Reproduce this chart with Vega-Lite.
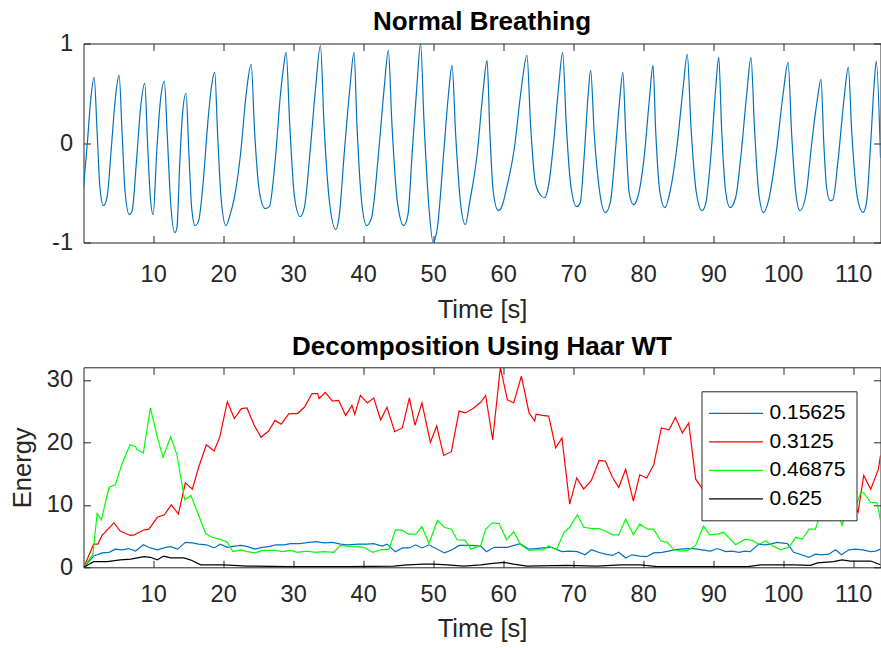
{
  "$schema": "https://vega.github.io/schema/vega-lite/v6.json",
  "padding": {"left": 9.5, "top": 7.5, "right": 0, "bottom": 0},
  "background": "white",
  "spacing": 8.8,
  "resolve": {"scale": {"color": "independent"}, "legend": {"color": "independent"}},
  "config": {
    "font": "Liberation Sans",
    "view": {"stroke": "#262626", "strokeWidth": 1},
    "axis": {"grid": false, "domain": false, "labelOverlap": false, "labelFlush": false, "labelBound": false, "tickColor": "#262626", "tickWidth": 1, "minExtent": 0}
  },
  "datasets": {
    "breath": [
      {"t":0.05,"v":-0.45},{"t":0.6,"v":0.0},{"t":1.1,"v":0.45},{"t":1.57,"v":0.66},{"t":2.0,"v":0.1},{"t":2.4,"v":-0.45},{"t":2.9,"v":-0.63},{"t":3.4,"v":-0.55},
      {"t":4.1,"v":0.02},{"t":4.6,"v":0.45},{"t":5.14,"v":0.68},{"t":5.55,"v":0.12},{"t":6.0,"v":-0.5},{"t":6.6,"v":-0.72},{"t":7.0,"v":-0.68},
      {"t":7.6,"v":-0.2},{"t":8.2,"v":0.35},{"t":8.8,"v":0.6},{"t":9.2,"v":0.0},{"t":9.6,"v":-0.55},{"t":10.0,"v":-0.72},
      {"t":10.5,"v":-0.1},{"t":11.0,"v":0.4},{"t":11.6,"v":0.62},{"t":12.0,"v":0.1},{"t":12.5,"v":-0.6},{"t":13.1,"v":-0.9},{"t":13.4,"v":-0.85},
      {"t":13.8,"v":-0.2},{"t":14.2,"v":0.3},{"t":14.7,"v":0.5},{"t":15.1,"v":-0.1},{"t":15.5,"v":-0.65},{"t":16.0,"v":-0.83},{"t":16.5,"v":-0.78},
      {"t":17.2,"v":-0.35},{"t":17.8,"v":0.2},{"t":18.3,"v":0.55},{"t":18.8,"v":0.71},{"t":19.2,"v":0.1},{"t":19.7,"v":-0.55},{"t":20.4,"v":-0.83},{"t":21.0,"v":-0.72},{"t":21.6,"v":-0.55},
      {"t":22.5,"v":-0.1},{"t":23.3,"v":0.5},{"t":24.0,"v":0.79},{"t":24.5,"v":0.1},{"t":25.2,"v":-0.5},{"t":26.0,"v":-0.66},{"t":26.6,"v":-0.64},
      {"t":27.4,"v":-0.2},{"t":28.2,"v":0.5},{"t":28.6,"v":0.75},{"t":29.0,"v":0.91},{"t":29.5,"v":0.2},{"t":30.2,"v":-0.55},{"t":31.0,"v":-0.74},{"t":31.6,"v":-0.65},
      {"t":32.4,"v":-0.1},{"t":33.2,"v":0.55},{"t":33.9,"v":0.98},{"t":34.4,"v":0.2},{"t":35.2,"v":-0.6},{"t":36.1,"v":-0.87},{"t":36.6,"v":-0.72},
      {"t":37.3,"v":-0.1},{"t":38.1,"v":0.55},{"t":38.7,"v":0.91},{"t":39.1,"v":0.2},{"t":39.8,"v":-0.6},{"t":40.5,"v":-0.83},{"t":41.2,"v":-0.75},
      {"t":42.2,"v":-0.1},{"t":43.0,"v":0.55},{"t":43.6,"v":0.93},{"t":44.1,"v":0.2},{"t":44.9,"v":-0.6},{"t":45.8,"v":-0.83},{"t":46.4,"v":-0.72},
      {"t":47.0,"v":-0.1},{"t":47.7,"v":0.6},{"t":48.2,"v":1.0},{"t":48.7,"v":0.2},{"t":49.4,"v":-0.65},{"t":50.0,"v":-1.0},{"t":50.6,"v":-0.85},
      {"t":51.5,"v":-0.1},{"t":52.2,"v":0.5},{"t":52.7,"v":0.78},{"t":53.2,"v":0.1},{"t":53.9,"v":-0.6},{"t":54.6,"v":-0.82},{"t":55.2,"v":-0.6},
      {"t":56.3,"v":-0.1},{"t":57.1,"v":0.5},{"t":57.7,"v":0.83},{"t":58.1,"v":0.1},{"t":58.6,"v":-0.5},{"t":59.3,"v":-0.68},{"t":59.8,"v":-0.64},{"t":60.5,"v":-0.45},
      {"t":61.6,"v":-0.05},{"t":62.6,"v":0.55},{"t":63.4,"v":0.88},{"t":63.9,"v":0.2},{"t":64.6,"v":-0.4},{"t":65.3,"v":-0.52},{"t":65.9,"v":-0.55},{"t":66.5,"v":-0.42},
      {"t":67.2,"v":0.0},{"t":67.9,"v":0.55},{"t":68.5,"v":0.91},{"t":69.0,"v":0.2},{"t":69.7,"v":-0.45},{"t":70.5,"v":-0.64},{"t":71.0,"v":-0.6},
      {"t":71.6,"v":-0.1},{"t":72.1,"v":0.45},{"t":72.5,"v":0.73},{"t":73.0,"v":0.1},{"t":73.8,"v":-0.5},{"t":74.6,"v":-0.7},{"t":75.3,"v":-0.6},
      {"t":76.0,"v":-0.1},{"t":76.6,"v":0.4},{"t":77.1,"v":0.71},{"t":77.5,"v":0.1},{"t":78.0,"v":-0.5},{"t":78.6,"v":-0.62},{"t":79.2,"v":-0.55},
      {"t":80.2,"v":-0.1},{"t":80.9,"v":0.45},{"t":81.4,"v":0.78},{"t":81.8,"v":0.1},{"t":82.4,"v":-0.5},{"t":83.1,"v":-0.65},{"t":83.8,"v":-0.5},
      {"t":84.8,"v":-0.05},{"t":85.7,"v":0.55},{"t":86.3,"v":0.89},{"t":86.8,"v":0.2},{"t":87.6,"v":-0.5},{"t":88.4,"v":-0.68},{"t":88.9,"v":-0.62},
      {"t":89.7,"v":-0.1},{"t":90.3,"v":0.5},{"t":90.8,"v":0.86},{"t":91.2,"v":0.15},{"t":91.8,"v":-0.5},{"t":92.4,"v":-0.65},{"t":93.2,"v":-0.55},
      {"t":94.0,"v":-0.1},{"t":94.8,"v":0.5},{"t":95.4,"v":0.86},{"t":95.9,"v":0.15},{"t":96.5,"v":-0.5},{"t":97.2,"v":-0.7},{"t":97.9,"v":-0.58},
      {"t":99.0,"v":-0.1},{"t":100.0,"v":0.5},{"t":100.7,"v":0.81},{"t":101.2,"v":0.1},{"t":101.8,"v":-0.5},{"t":102.4,"v":-0.68},{"t":103.3,"v":-0.5},
      {"t":104.0,"v":-0.05},{"t":104.6,"v":0.3},{"t":104.9,"v":0.45},{"t":105.4,"v":0.64},{"t":105.8,"v":0.0},{"t":106.2,"v":-0.45},{"t":106.7,"v":-0.58},{"t":107.1,"v":-0.57},
      {"t":107.8,"v":-0.2},{"t":108.7,"v":0.45},{"t":109.3,"v":0.76},{"t":109.8,"v":0.1},{"t":110.6,"v":-0.55},{"t":111.4,"v":-0.7},{"t":111.9,"v":-0.6},
      {"t":112.5,"v":0.0},{"t":113.0,"v":0.6},{"t":113.3,"v":0.82},{"t":113.9,"v":-0.15}
    ],
    "blue": [
      {"t":0.1,"e":0},{"t":1.5,"e":1.8},{"t":2.0,"e":2.0},{"t":2.7,"e":2.3},{"t":3.7,"e":2.4},{"t":4.6,"e":2.9},{"t":5.6,"e":2.8},{"t":6.5,"e":3.0},{"t":7.5,"e":2.6},{"t":8.6,"e":3.6},{"t":9.6,"e":3.1},{"t":10.6,"e":2.8},{"t":11.8,"e":3.2},{"t":12.5,"e":3.3},{"t":13.5,"e":2.9},{"t":14.6,"e":4.0},{"t":15.6,"e":3.9},{"t":16.5,"e":3.7},{"t":17.6,"e":3.6},{"t":18.7,"e":3.1},{"t":19.6,"e":3.7},{"t":20.6,"e":3.2},{"t":21.6,"e":3.4},{"t":22.6,"e":3.5},{"t":23.5,"e":3.3},{"t":24.5,"e":2.9},{"t":25.6,"e":3.2},{"t":26.5,"e":3.3},{"t":27.5,"e":3.6},{"t":28.7,"e":3.6},{"t":29.6,"e":3.8},{"t":31.0,"e":3.8},{"t":32.2,"e":4.0},{"t":33.3,"e":4.1},{"t":34.4,"e":3.9},{"t":35.6,"e":4.0},{"t":36.8,"e":3.7},{"t":37.7,"e":3.6},{"t":39.4,"e":3.7},{"t":40.6,"e":3.7},{"t":41.5,"e":3.8},{"t":42.7,"e":3.4},{"t":43.4,"e":3.7},{"t":44.6,"e":2.5},{"t":45.6,"e":3.1},{"t":46.6,"e":3.1},{"t":47.5,"e":3.6},{"t":48.4,"e":3.1},{"t":49.4,"e":3.6},{"t":50.6,"e":2.9},{"t":51.6,"e":2.3},{"t":52.7,"e":2.8},{"t":53.7,"e":3.5},{"t":55.3,"e":3.5},{"t":56.8,"e":3.4},{"t":57.6,"e":2.5},{"t":58.7,"e":3.2},{"t":60.6,"e":3.2},{"t":62.4,"e":3.8},{"t":63.7,"e":2.9},{"t":64.7,"e":3.0},{"t":65.7,"e":3.1},{"t":66.8,"e":3.2},{"t":67.5,"e":2.9},{"t":68.4,"e":2.5},{"t":69.5,"e":2.6},{"t":70.6,"e":2.5},{"t":71.7,"e":2.0},{"t":72.6,"e":2.8},{"t":73.6,"e":2.4},{"t":74.6,"e":2.1},{"t":75.6,"e":1.9},{"t":76.5,"e":2.4},{"t":77.5,"e":1.5},{"t":78.4,"e":2.0},{"t":79.5,"e":1.8},{"t":80.5,"e":1.7},{"t":81.5,"e":2.3},{"t":82.7,"e":2.4},{"t":83.6,"e":2.6},{"t":84.4,"e":2.8},{"t":85.3,"e":2.9},{"t":86.3,"e":3.0},{"t":87.2,"e":3.0},{"t":88.4,"e":2.8},{"t":89.6,"e":2.6},{"t":90.6,"e":3.0},{"t":91.8,"e":2.5},{"t":92.7,"e":2.6},{"t":93.7,"e":2.4},{"t":94.5,"e":2.6},{"t":95.3,"e":2.5},{"t":96.5,"e":3.7},{"t":97.4,"e":3.6},{"t":98.2,"e":3.7},{"t":99.1,"e":4.0},{"t":100.6,"e":3.8},{"t":101.5,"e":2.4},{"t":102.6,"e":2.0},{"t":103.7,"e":1.6},{"t":104.6,"e":2.1},{"t":105.5,"e":2.0},{"t":106.5,"e":2.1},{"t":107.5,"e":2.8},{"t":108.3,"e":2.0},{"t":109.4,"e":2.8},{"t":110.3,"e":2.9},{"t":111.3,"e":2.8},{"t":112.5,"e":2.5},{"t":113.2,"e":2.6},{"t":113.9,"e":2.9}
    ],
    "red": [
      {"t":0.1,"e":0},{"t":1.5,"e":3.7},{"t":2.1,"e":3.7},{"t":2.7,"e":5.1},{"t":4.4,"e":7.1},{"t":5.3,"e":5.8},{"t":6.7,"e":5.1},{"t":7.3,"e":5.2},{"t":8.7,"e":6.0},{"t":9.4,"e":6.1},{"t":10.6,"e":8.0},{"t":11.6,"e":8.4},{"t":12.6,"e":10.0},{"t":13.6,"e":8.5},{"t":14.6,"e":13.5},{"t":15.6,"e":12.5},{"t":16.5,"e":16.0},{"t":17.6,"e":19.6},{"t":18.7,"e":18.6},{"t":19.5,"e":20.8},{"t":20.6,"e":26.5},{"t":21.6,"e":23.8},{"t":22.6,"e":25.4},{"t":23.4,"e":25.5},{"t":24.4,"e":22.8},{"t":25.4,"e":20.8},{"t":26.5,"e":21.8},{"t":27.4,"e":23.5},{"t":28.3,"e":22.9},{"t":29.4,"e":24.6},{"t":30.6,"e":24.6},{"t":31.6,"e":25.6},{"t":32.7,"e":27.8},{"t":33.5,"e":27.8},{"t":33.7,"e":27.0},{"t":34.6,"e":28.0},{"t":35.6,"e":26.6},{"t":36.5,"e":26.7},{"t":37.5,"e":24.3},{"t":38.4,"e":25.9},{"t":38.8,"e":24.5},{"t":39.6,"e":27.5},{"t":40.6,"e":26.3},{"t":41.5,"e":27.1},{"t":42.5,"e":23.6},{"t":43.4,"e":25.6},{"t":44.5,"e":21.7},{"t":45.6,"e":22.3},{"t":46.6,"e":27.1},{"t":47.4,"e":22.7},{"t":48.4,"e":26.3},{"t":49.6,"e":20.0},{"t":50.5,"e":22.6},{"t":51.5,"e":17.9},{"t":52.6,"e":18.5},{"t":53.7,"e":25.0},{"t":54.6,"e":24.7},{"t":55.7,"e":25.4},{"t":56.8,"e":26.4},{"t":57.5,"e":27.5},{"t":58.5,"e":20.4},{"t":59.6,"e":32.0},{"t":60.6,"e":26.8},{"t":61.5,"e":26.3},{"t":62.6,"e":30.6},{"t":63.7,"e":24.7},{"t":64.5,"e":23.4},{"t":64.7,"e":24.5},{"t":65.6,"e":24.3},{"t":66.5,"e":24.2},{"t":67.5,"e":19.1},{"t":68.4,"e":20.7},{"t":69.5,"e":10.1},{"t":70.5,"e":14.3},{"t":71.5,"e":12.5},{"t":72.6,"e":13.9},{"t":73.7,"e":17.1},{"t":74.6,"e":17.0},{"t":75.6,"e":14.4},{"t":76.5,"e":12.8},{"t":77.5,"e":15.7},{"t":78.6,"e":10.6},{"t":79.5,"e":14.8},{"t":80.5,"e":14.3},{"t":81.5,"e":16.4},{"t":82.6,"e":22.3},{"t":83.7,"e":22.0},{"t":84.6,"e":24.0},{"t":85.6,"e":21.5},{"t":86.5,"e":23.1},{"t":87.5,"e":14.1},{"t":88.5,"e":12.5},{"t":89.5,"e":16.0},{"t":90.5,"e":14.5},{"t":91.5,"e":19.0},{"t":92.5,"e":17.0},{"t":93.5,"e":21.0},{"t":94.5,"e":18.0},{"t":95.5,"e":22.0},{"t":96.5,"e":20.0},{"t":97.5,"e":17.0},{"t":98.5,"e":19.0},{"t":99.5,"e":15.0},{"t":100.5,"e":18.0},{"t":101.5,"e":16.0},{"t":102.5,"e":20.0},{"t":103.5,"e":17.0},{"t":104.5,"e":21.0},{"t":105.5,"e":18.0},{"t":106.5,"e":15.0},{"t":107.5,"e":19.0},{"t":108.5,"e":14.0},{"t":109.6,"e":11.0},{"t":110.7,"e":8.8},{"t":111.5,"e":14.7},{"t":112.5,"e":12.5},{"t":113.6,"e":15.7},{"t":113.9,"e":17.9}
    ],
    "green": [
      {"t":0.1,"e":0},{"t":1.4,"e":2.1},{"t":2.0,"e":8.6},{"t":2.6,"e":7.6},{"t":3.7,"e":12.8},{"t":4.6,"e":13.2},{"t":5.6,"e":16.7},{"t":6.7,"e":19.6},{"t":7.5,"e":19.3},{"t":7.7,"e":18.8},{"t":8.6,"e":18.3},{"t":9.6,"e":25.5},{"t":10.6,"e":20.8},{"t":11.4,"e":17.6},{"t":12.5,"e":20.9},{"t":13.4,"e":18.0},{"t":14.5,"e":10.8},{"t":15.4,"e":11.5},{"t":16.5,"e":8.3},{"t":17.5,"e":5.4},{"t":18.4,"e":4.8},{"t":19.5,"e":4.5},{"t":20.6,"e":4.0},{"t":21.4,"e":2.5},{"t":22.5,"e":2.8},{"t":23.4,"e":2.5},{"t":24.6,"e":2.3},{"t":25.6,"e":2.7},{"t":27.5,"e":2.7},{"t":28.4,"e":2.5},{"t":29.6,"e":2.7},{"t":30.6,"e":2.4},{"t":32.0,"e":2.6},{"t":33.2,"e":2.4},{"t":34.4,"e":2.5},{"t":35.8,"e":2.4},{"t":36.7,"e":3.5},{"t":37.7,"e":3.4},{"t":40.1,"e":3.2},{"t":41.4,"e":2.4},{"t":42.5,"e":2.8},{"t":43.7,"e":2.9},{"t":44.6,"e":6.0},{"t":45.6,"e":5.9},{"t":46.5,"e":5.3},{"t":47.5,"e":5.3},{"t":48.4,"e":6.5},{"t":49.4,"e":3.8},{"t":50.6,"e":7.5},{"t":51.6,"e":6.4},{"t":52.6,"e":6.1},{"t":53.4,"e":4.4},{"t":54.6,"e":4.3},{"t":55.4,"e":2.9},{"t":56.8,"e":3.5},{"t":57.5,"e":6.1},{"t":58.5,"e":7.1},{"t":59.4,"e":7.0},{"t":60.5,"e":4.4},{"t":61.5,"e":5.7},{"t":62.5,"e":3.6},{"t":63.7,"e":2.7},{"t":64.6,"e":2.8},{"t":65.7,"e":2.8},{"t":66.5,"e":3.4},{"t":67.6,"e":2.8},{"t":68.7,"e":5.6},{"t":69.5,"e":6.4},{"t":70.6,"e":8.4},{"t":71.5,"e":6.4},{"t":72.7,"e":6.2},{"t":73.7,"e":6.2},{"t":74.6,"e":5.8},{"t":75.6,"e":5.2},{"t":76.5,"e":5.2},{"t":77.5,"e":7.7},{"t":78.6,"e":5.2},{"t":79.5,"e":6.9},{"t":80.6,"e":6.1},{"t":81.5,"e":6.1},{"t":82.5,"e":4.2},{"t":83.4,"e":4.0},{"t":84.4,"e":2.8},{"t":85.3,"e":2.6},{"t":86.4,"e":2.7},{"t":87.5,"e":3.5},{"t":88.6,"e":6.6},{"t":89.5,"e":5.2},{"t":90.6,"e":5.3},{"t":91.5,"e":5.6},{"t":93.2,"e":3.6},{"t":94.6,"e":4.5},{"t":95.6,"e":4.3},{"t":96.5,"e":3.7},{"t":97.5,"e":4.2},{"t":98.4,"e":3.5},{"t":99.6,"e":2.8},{"t":100.8,"e":3.2},{"t":101.8,"e":4.8},{"t":102.7,"e":4.5},{"t":103.7,"e":6.1},{"t":104.6,"e":6.1},{"t":105.3,"e":8.6},{"t":106.5,"e":7.5},{"t":107.4,"e":10.5},{"t":108.4,"e":6.7},{"t":109.5,"e":11.0},{"t":110.3,"e":9.5},{"t":111.1,"e":12.0},{"t":111.5,"e":11.9},{"t":112.5,"e":10.4},{"t":113.4,"e":10.3},{"t":113.9,"e":7.5}
    ],
    "black": [
      {"t":0.1,"e":0},{"t":1.5,"e":0.9},{"t":3.4,"e":0.9},{"t":5.3,"e":1.2},{"t":6.8,"e":1.3},{"t":8.7,"e":1.7},{"t":9.6,"e":1.6},{"t":10.6,"e":1.2},{"t":11.5,"e":1.8},{"t":12.5,"e":1.5},{"t":14.4,"e":1.5},{"t":15.3,"e":1.2},{"t":16.8,"e":0.4},{"t":18.2,"e":0.4},{"t":20.1,"e":0.4},{"t":23.4,"e":0.2},{"t":29.1,"e":0.1},{"t":37.7,"e":0.1},{"t":44.4,"e":0.2},{"t":46.3,"e":0.4},{"t":48.7,"e":0.5},{"t":50.1,"e":0.5},{"t":52.0,"e":0.4},{"t":54.4,"e":0.2},{"t":56.8,"e":0.4},{"t":58.2,"e":0.6},{"t":60.1,"e":0.8},{"t":61.5,"e":0.5},{"t":63.4,"e":0.2},{"t":69.1,"e":0.3},{"t":73.4,"e":0.2},{"t":76.8,"e":0.4},{"t":79.6,"e":0.4},{"t":82.0,"e":0.1},{"t":89.1,"e":0.1},{"t":94.9,"e":0.1},{"t":96.8,"e":0.4},{"t":101.5,"e":0.4},{"t":103.9,"e":0.3},{"t":104.9,"e":0.7},{"t":107.2,"e":0.9},{"t":108.4,"e":1.2},{"t":109.6,"e":1.0},{"t":112.5,"e":1.0},{"t":113.9,"e":0.4}
    ]
  },
  "vconcat": [
    {
      "width": 797,
      "height": 199,
      "title": {"text": "Normal Breathing", "fontSize": 26, "fontWeight": "bold", "font": "Liberation Sans", "color": "black", "baseline": "alphabetic", "offset": -24, "anchor": "middle", "frame": "group"},
      "data": {"name": "breath"},
      "layer": [
        {
          "mark": {"type": "line", "color": "#0072BD", "strokeWidth": 1.2, "interpolate": "monotone", "clip": true},
          "encoding": {
            "x": {"field": "t", "type": "quantitative", "scale": {"domain": [0.05, 113.9], "nice": false, "zero": false},
              "axis": {"orient": "bottom", "values": [10,20,30,40,50,60,70,80,90,100,110], "tickSize": -7, "labelFontSize": 23.5, "labelColor": "#262626", "labelBaseline": "alphabetic", "labelPadding": 46, "title": "Time [s]", "titleFontSize": 25.5, "titleFontWeight": "normal", "titleColor": "#262626", "titleBaseline": "alphabetic", "titleY": 75.3}},
            "y": {"field": "v", "type": "quantitative", "scale": {"domain": [-1, 1], "nice": false, "zero": false},
              "axis": {"orient": "left", "values": [-1, 0, 1], "labelExpr": "'' + datum.value", "tickSize": -7, "labelFontSize": 23.5, "labelColor": "#262626", "labelPadding": 18, "labelAlign": "right", "labelBaseline": "middle", "title": null}}
          }
        },
        {
          "mark": {"type": "line", "strokeOpacity": 0},
          "encoding": {
            "x": {"field": "t", "type": "quantitative", "axis": {"orient": "top", "values": [10,20,30,40,50,60,70,80,90,100,110], "tickSize": -7, "labels": false, "title": null, "minExtent": 0, "maxExtent": 0}},
            "y": {"field": "v", "type": "quantitative", "axis": {"orient": "right", "values": [-1, 0, 1], "tickSize": -7, "labels": false, "title": null, "minExtent": 0, "maxExtent": 0}}
          }
        }
      ],
      "resolve": {"axis": {"x": "independent", "y": "independent"}}
    },
    {
      "width": 797,
      "height": 200,
      "title": {"text": "Decomposition Using Haar WT", "fontSize": 26, "fontWeight": "bold", "font": "Liberation Sans", "color": "black", "baseline": "alphabetic", "offset": -14.5, "anchor": "middle", "frame": "group"},
      "layer": [
        {
          "data": {"name": "blue"},
          "mark": {"type": "line", "strokeWidth": 1.2, "clip": true},
          "encoding": {
            "x": {"field": "t", "type": "quantitative", "scale": {"domain": [0.05, 113.9], "nice": false, "zero": false},
              "axis": {"orient": "bottom", "values": [10,20,30,40,50,60,70,80,90,100,110], "tickSize": -7, "labelFontSize": 23.5, "labelColor": "#262626", "labelBaseline": "alphabetic", "labelPadding": 41.5, "title": "Time [s]", "titleFontSize": 25.5, "titleFontWeight": "normal", "titleColor": "#262626", "titleBaseline": "alphabetic", "titleY": 69}},
            "y": {"field": "e", "type": "quantitative", "scale": {"domain": [0, 32], "nice": false, "zero": false},
              "axis": {"orient": "left", "values": [0, 10, 20, 30], "tickSize": -7, "labelFontSize": 23.5, "labelColor": "#262626", "labelPadding": 18, "labelAlign": "right", "labelBaseline": "middle", "title": "Energy", "titleFontSize": 25.5, "titleFontWeight": "normal", "titleColor": "#262626", "titleBaseline": "alphabetic", "titleAngle": -90, "titleAlign": "center", "titleX": -53.5, "titleY": 100}},
            "color": {"datum": "0.15625", "type": "nominal",
              "scale": {"domain": ["0.15625", "0.3125", "0.46875", "0.625"], "range": ["#0072BD", "#FF0000", "#00FF00", "#000000"]},
              "legend": {"orient": "none", "legendX": 618, "legendY": 24, "title": null, "symbolType": "M-1.45,0H3.95", "symbolSize": 400, "symbolStrokeWidth": 1.2, "labelFontSize": 21, "labelColor": "black", "labelOffset": 35, "rowPadding": 7.5, "padding": 11, "strokeColor": "#262626", "fillColor": "white", "cornerRadius": 0, "labelBaseline": "middle"}}
          }
        },
        {
          "data": {"name": "red"},
          "mark": {"type": "line", "strokeWidth": 1.2, "clip": true},
          "encoding": {
            "x": {"field": "t", "type": "quantitative", "axis": null},
            "y": {"field": "e", "type": "quantitative", "axis": null},
            "color": {"datum": "0.3125", "type": "nominal"}
          }
        },
        {
          "data": {"name": "green"},
          "mark": {"type": "line", "strokeWidth": 1.2, "clip": true},
          "encoding": {
            "x": {"field": "t", "type": "quantitative", "axis": null},
            "y": {"field": "e", "type": "quantitative", "axis": null},
            "color": {"datum": "0.46875", "type": "nominal"}
          }
        },
        {
          "data": {"name": "black"},
          "mark": {"type": "line", "strokeWidth": 1.2, "clip": true},
          "encoding": {
            "x": {"field": "t", "type": "quantitative", "axis": null},
            "y": {"field": "e", "type": "quantitative", "axis": null},
            "color": {"datum": "0.625", "type": "nominal"}
          }
        },
        {
          "data": {"name": "black"},
          "mark": {"type": "line", "strokeOpacity": 0},
          "encoding": {
            "x": {"field": "t", "type": "quantitative", "axis": {"orient": "top", "values": [10,20,30,40,50,60,70,80,90,100,110], "tickSize": -7, "labels": false, "title": null, "minExtent": 0, "maxExtent": 0}},
            "y": {"field": "e", "type": "quantitative", "axis": {"orient": "right", "values": [0, 10, 20, 30], "tickSize": -7, "labels": false, "title": null, "minExtent": 0, "maxExtent": 0}}
          }
        }
      ],
      "resolve": {"axis": {"x": "independent", "y": "independent"}}
    }
  ]
}
